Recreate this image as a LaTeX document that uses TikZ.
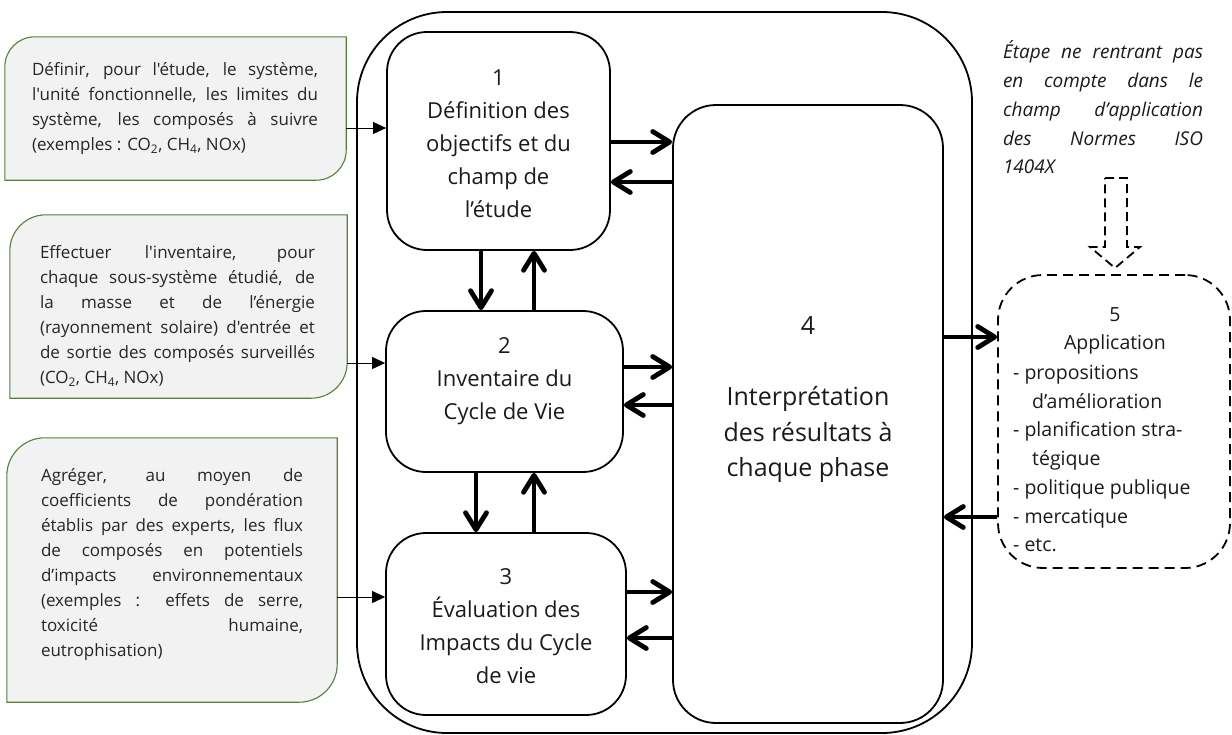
\documentclass[tikz,border=0pt]{standalone}
\usepackage{fontspec}
\setmainfont{Open Sans}[Ligatures=TeXOff]
\usetikzlibrary{arrows.meta}
\definecolor{boxgreen}{HTML}{548235}
\definecolor{boxgray}{HTML}{F2F2F2}
\definecolor{txtgray}{HTML}{262626}
\definecolor{txtdark}{HTML}{1A1A1A}
\newcommand\fsl{\fontsize{17}{25}\selectfont\pretolerance=10000\tolerance=10000\hbadness=10000}
\newcommand\fsm{\fontsize{22}{33}\selectfont}
\newcommand\fsb{\fontsize{25}{35.5}\selectfont}
\newcommand\fsn{\fontsize{19.5}{28.75}\selectfont}
\newcommand\fsi{\fontsize{19}{28.75}\selectfont\itshape\pretolerance=10000\tolerance=10000\hbadness=10000}
\tikzset{
  mainbox/.style={draw, line width=1.8pt, rounded corners=40pt, inner sep=0pt},
  outerbox/.style={draw, line width=1.8pt, rounded corners=90pt, inner sep=0pt},
  dashbox/.style={draw, line width=1.8pt, dash pattern=on 10pt off 6pt, rounded corners=45pt, inner sep=0pt},
  thickarrow/.style={line width=4.8pt, -{Straight Barb[length=17pt,width=21pt,round]}},
  thinarrow/.style={line width=0.9pt, -{Triangle[length=13pt,width=12pt]}},
  greenbox/.style={fill=boxgray, draw=boxgreen, line width=1.1pt},
  lefttext/.style={inner sep=0pt, align=justify, font=\fsl, text=txtgray},
  boxtext/.style={inner sep=0pt, align=center, font=\fsm, text=txtdark},
  blank/.style={inner sep=0pt}
}
\begin{document}
\begin{tikzpicture}[x=1pt,y=-1pt]
\useasboundingbox (0,0) rectangle (1232,734);

% outer frame and main boxes
\node[outerbox, minimum width=615pt, minimum height=721pt] (outer) at (664.5,372.5) {};
\node[mainbox, minimum width=223pt, minimum height=218pt] (b1) at (498.5,141) {};
\node[mainbox, minimum width=237pt, minimum height=161pt] (b2) at (504.5,391.5) {};
\node[mainbox, minimum width=240pt, minimum height=182pt] (b3) at (506,624) {};
\node[mainbox, rounded corners=43pt, minimum width=270pt, minimum height=618pt] (b4) at (808,414) {};
\node[dashbox, minimum width=232pt, minimum height=293pt] (b5) at (1114,421.5) {};

% main texts
\node[boxtext] (t1) at (498.5,144) {1\\Définition des\\objectifs et du\\champ de\\l’étude};
\node[boxtext] (t2) at (504.5,381) {2\\Inventaire du\\Cycle de Vie};
\node[boxtext] (t3) at (506,626) {3\\Évaluation des\\Impacts du Cycle\\de vie};
\node[boxtext, font=\fsb] (t4) at (808,400) {4\\\mbox{}\\Interprétation\\des résultats à\\chaque phase};
\node[boxtext, font=\fsn] (t5) at (1115,331) {5\\Application};
\node[inner sep=0pt, align=left, font=\fsn, text=txtdark, anchor=west] (t5list) at (1013,458.5)
  {- propositions\\\hspace*{19pt}d’amélioration\\- planification stra-\\\hspace*{19pt}tégique\\- politique publique\\- mercatique\\- etc.};

% note
\node[inner sep=0pt, align=justify, text width=200pt, font=\fsi, text=txtdark] (note) at (1103,107.5)
  {Étape ne rentrant pas\linebreak en compte dans le\linebreak champ d’application\linebreak des Normes ISO\linebreak 1404X};
\draw[line width=1.8pt, dash pattern=on 9pt off 5pt]
  (1105,178) -- (1127,178) -- (1127,247) -- (1140,247) -- (1115,268) -- (1090,247) -- (1105,247) -- cycle;

% left boxes
\node[blank, minimum width=341pt, minimum height=143pt] (lA) at (175.5,108.5) {};
\node[blank, minimum width=337pt, minimum height=183pt] (lB) at (178.5,306.5) {};
\node[blank, minimum width=330pt, minimum height=264pt] (lC) at (172,570) {};
\filldraw[greenbox] (lA.south west) -- ([yshift=-30pt]lA.north west) arc[start angle=180,end angle=90,radius=30pt]
  -- (lA.north east) -- ([yshift=30pt]lA.south east) arc[start angle=0,end angle=-90,radius=30pt] -- cycle;
\filldraw[greenbox] (lB.south west) -- ([yshift=-36pt]lB.north west) arc[start angle=180,end angle=90,radius=36pt]
  -- (lB.north east) -- ([yshift=36pt]lB.south east) arc[start angle=0,end angle=-90,radius=36pt] -- cycle;
\filldraw[greenbox] (lC.south west) -- ([yshift=-38pt]lC.north west) arc[start angle=180,end angle=90,radius=38pt]
  -- (lC.north east) -- ([yshift=38pt]lC.south east) arc[start angle=0,end angle=-90,radius=38pt] -- cycle;

\node[lefttext, text width=286pt] (tA) at (175,108.5)
  {Définir, pour l'étude, le système,\linebreak l'unité fonctionnelle, les limites du\linebreak système, les composés à suivre\linebreak (exemples~: CO\textsubscript{2}, CH\textsubscript{4}, NOx)};
\node[lefttext, text width=275pt] (tB) at (177.5,316)
  {Effectuer l'inventaire, pour\linebreak chaque sous-système étudié, de\linebreak la masse et de l’énergie\linebreak (rayonnement solaire) d'entrée et\linebreak de sortie des composés surveillés\linebreak (CO\textsubscript{2}, CH\textsubscript{4}, NOx)};
\node[lefttext, text width=262pt] (tC) at (172,565)
  {Agréger, au moyen de\linebreak coefficients de pondération\linebreak établis par des experts, les flux\linebreak de composés en potentiels\linebreak d’impacts environnementaux\linebreak (exemples~: effets de serre,\linebreak toxicité humaine,\linebreak eutrophisation)};

% thin arrows
\coordinate (cA) at ([yshift=-19.5pt]lA.east);
\coordinate (cB) at ([yshift=-56.5pt]lB.east);
\coordinate (cC) at ([yshift=-27pt]lC.east);
\draw[thinarrow] (cA) -- (cA -| b1.west);
\draw[thinarrow] (cB) -- (cB -| b2.west);
\draw[thinarrow] (cC) -- (cC -| b3.west);

% horizontal thick arrows
\coordinate (h1) at ([yshift=-1pt]b1.east);
\coordinate (h2) at ([yshift=-41pt]b1.east);
\coordinate (h3) at ([yshift=24.5pt]b2.east);
\coordinate (h4) at ([yshift=-13.5pt]b2.east);
\coordinate (h5) at ([yshift=32pt]b3.east);
\coordinate (h6) at ([yshift=-14pt]b3.east);
\coordinate (h7) at ([yshift=77pt]b4.east);
\coordinate (h8) at ([yshift=-103pt]b4.east);
\draw[thickarrow] (h1) -- (h1 -| b4.west);
\draw[thickarrow] (h2 -| b4.west) -- (h2);
\draw[thickarrow] (h3) -- (h3 -| b4.west);
\draw[thickarrow] (h4 -| b4.west) -- (h4);
\draw[thickarrow] (h5) -- (h5 -| b4.west);
\draw[thickarrow] (h6 -| b4.west) -- (h6);
\draw[thickarrow] (h7) -- (h7 -| b5.west);
\draw[thickarrow] (h8 -| b5.west) -- (h8);

% vertical thick arrows
\coordinate (v1) at ([xshift=-17.5pt]b1.south);
\coordinate (v2) at ([xshift=35.5pt]b1.south);
\coordinate (v3) at ([xshift=-28.5pt]b2.south);
\coordinate (v4) at ([xshift=29.5pt]b2.south);
\draw[thickarrow] (v1) -- (v1 |- b2.north);
\draw[thickarrow] (v2 |- b2.north) -- (v2);
\draw[thickarrow] (v3) -- (v3 |- b3.north);
\draw[thickarrow] (v4 |- b3.north) -- (v4);
\end{tikzpicture}
\end{document}
